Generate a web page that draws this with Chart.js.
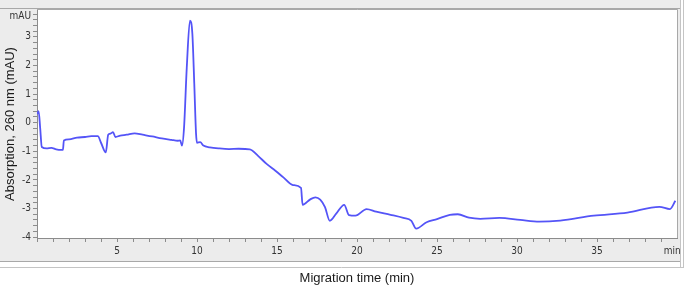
<!DOCTYPE html>
<html>
<head>
<meta charset="utf-8">
<script src="https://cdn.jsdelivr.net/npm/chart.js@4.4.1/dist/chart.umd.min.js"></script>
<style>
  html, body { margin: 0; padding: 0; background: #fff; }
  canvas { display: block; }
</style>
</head>
<body>
<canvas id="electropherogram" width="686" height="288"></canvas>
<script>
"use strict";

// migration time (min)
var times = [
  0.0, 0.1, 0.2, 0.3, 0.6, 0.9, 1.2, 1.5, 1.62, 1.68,
  2.0, 2.5, 3.0, 3.4, 3.8, 4.0, 4.3, 4.45, 4.6, 4.75,
  4.9, 5.2, 5.6, 6.1, 6.6, 7.2, 7.8, 8.4, 8.8, 8.95,
  9.06, 9.19, 9.36, 9.56, 9.71, 9.83, 9.94, 10.0, 10.2, 10.4,
  10.8, 11.4, 12.0, 12.6, 13.3, 13.8, 14.35, 14.9, 15.4, 16.0,
  16.5, 16.6, 17.1, 17.4, 17.7, 18.0, 18.3, 18.7, 19.2, 19.5,
  19.9, 20.6, 21.2, 22.1, 22.9, 23.4, 23.7, 24.35, 25.0, 25.8,
  26.3, 27.0, 27.7, 28.9, 30.2, 31.4, 32.7, 34.8, 36.9, 38.9,
  39.56, 39.9
];

// absorption at 260 nm (mAU)
var absorption = [
  0.3, 0.4, -0.2, -0.85, -0.9, -0.88, -0.93, -0.95, -0.95, -0.62,
  -0.58, -0.52, -0.5, -0.47, -0.47, -0.7, -1.04, -0.42, -0.38, -0.33,
  -0.5, -0.45, -0.42, -0.37, -0.42, -0.48, -0.55, -0.6, -0.63, -0.62,
  -0.8, -0.17, 1.92, 3.57, 3.11, 1.36, -0.38, -0.7, -0.68, -0.8,
  -0.86, -0.9, -0.92, -0.91, -0.93, -1.15, -1.44, -1.68, -1.91, -2.18,
  -2.28, -2.87, -2.67, -2.61, -2.69, -2.95, -3.43, -3.18, -2.87, -3.23,
  -3.25, -3.02, -3.11, -3.22, -3.33, -3.43, -3.7, -3.48, -3.37, -3.22,
  -3.2, -3.32, -3.36, -3.33, -3.4, -3.46, -3.42, -3.25, -3.14, -2.94,
  -3.02, -2.73
];

// tick labels
var xLabelValues = [5, 10, 15, 20, 25, 30, 35];
var yLabelValues = [-4, -3, -2, -1, 0, 1, 2, 3];
var xUnit = "min";
var yUnit = "mAU";
var xUnitAt = 39.7;
var yUnitAt = 3.7;

var tickFont = { family: "'Liberation Sans Narrow', 'DejaVu Sans Condensed', 'Liberation Sans', sans-serif", size: 10 };
var titleFont = { family: "'Liberation Sans', Arial, sans-serif", size: 13 };

var points = [];
for (var i = 0; i < times.length; i++) {
  points.push({ x: times[i], y: absorption[i] });
}

// grey instrument-software frame behind the plot
var framePlugin = {
  id: "frame",
  beforeDraw: function (chart) {
    var ctx = chart.ctx;
    var a = chart.chartArea;
    ctx.save();
    ctx.fillStyle = "#ffffff";
    ctx.fillRect(0, 0, chart.width, chart.height);
    ctx.fillStyle = "#ececec";
    ctx.fillRect(0, 0, 680, 261);
    ctx.fillStyle = "#ffffff";
    ctx.fillRect(a.left, a.top, a.right - a.left, a.bottom - a.top);

    ctx.strokeStyle = "#a8a8a8";
    ctx.lineWidth = 1;
    ctx.beginPath();
    ctx.moveTo(0, 8.5); ctx.lineTo(680, 8.5);
    ctx.moveTo(0, 261.5); ctx.lineTo(680, 261.5);
    ctx.moveTo(a.left, a.top - 0.5); ctx.lineTo(a.right + 0.5, a.top - 0.5);
    ctx.lineTo(a.right + 0.5, a.bottom);
    ctx.stroke();

    ctx.strokeStyle = "#c4c4c4";
    ctx.beginPath();
    ctx.moveTo(0, 267.5); ctx.lineTo(683, 267.5);
    ctx.moveTo(680.5, 0); ctx.lineTo(680.5, 268);
    ctx.moveTo(683.5, 0); ctx.lineTo(683.5, 268);
    ctx.stroke();
    ctx.restore();
  }
};

var chart = new Chart(document.getElementById("electropherogram").getContext("2d"), {
  type: "line",
  data: {
    datasets: [{
      data: points,
      borderColor: "#5454f7",
      borderWidth: 1.8,
      pointRadius: 0,
      fill: false,
      cubicInterpolationMode: "monotone"
    }]
  },
  options: {
    responsive: false,
    animation: false,
    devicePixelRatio: 1,
    layout: { padding: { top: 10, right: 9, left: 0, bottom: 0 } },
    plugins: {
      legend: { display: false },
      tooltip: { enabled: false }
    },
    scales: {
      x: {
        type: "linear",
        min: 0,
        max: 40,
        afterBuildTicks: function (scale) {
          var t = [];
          for (var v = 0; v <= 39; v++) t.push({ value: v });
          t.push({ value: xUnitAt });
          scale.ticks = t;
        },
        afterFit: function (scale) { scale.height = 50; },
        ticks: {
          autoSkip: false,
          maxRotation: 0,
          padding: 3,
          color: "#333",
          font: tickFont,
          callback: function (value) {
            if (value === xUnitAt) return xUnit;
            return xLabelValues.indexOf(value) >= 0 ? String(value) : "";
          }
        },
        grid: {
          drawOnChartArea: false,
          tickLength: 4,
          tickColor: function (c) {
            return c.tick && c.tick.value === xUnitAt ? "rgba(0,0,0,0)" : "#8c8c8c";
          }
        },
        border: { color: "#8c8c8c" },
        title: {
          display: true,
          text: "Migration time (min)",
          color: "#1a1a1a",
          font: titleFont,
          padding: { top: 0, bottom: 2 }
        }
      },
      y: {
        type: "linear",
        min: -4.03,
        max: 3.94,
        afterBuildTicks: function (scale) {
          var t = [];
          for (var k = -20; k <= 19; k++) t.push({ value: k / 5 });
          t.push({ value: yUnitAt });
          scale.ticks = t;
        },
        afterFit: function (scale) { scale.width = 37; },
        ticks: {
          autoSkip: false,
          padding: 2,
          color: "#333",
          font: tickFont,
          callback: function (value) {
            if (value === yUnitAt) return yUnit;
            return yLabelValues.indexOf(value) >= 0 ? String(value) : "";
          }
        },
        grid: {
          drawOnChartArea: false,
          tickLength: 4,
          tickColor: function (c) {
            if (!c.tick || c.tick.value === yUnitAt) return "rgba(0,0,0,0)";
            return "#8c8c8c";
          }
        },
        border: { color: "#8c8c8c" },
        title: {
          display: true,
          text: "Absorption, 260 nm (mAU)",
          color: "#1a1a1a",
          font: titleFont,
          padding: { top: 3, bottom: 0 }
        }
      }
    }
  },
  plugins: [framePlugin]
});
</script>
</body>
</html>
